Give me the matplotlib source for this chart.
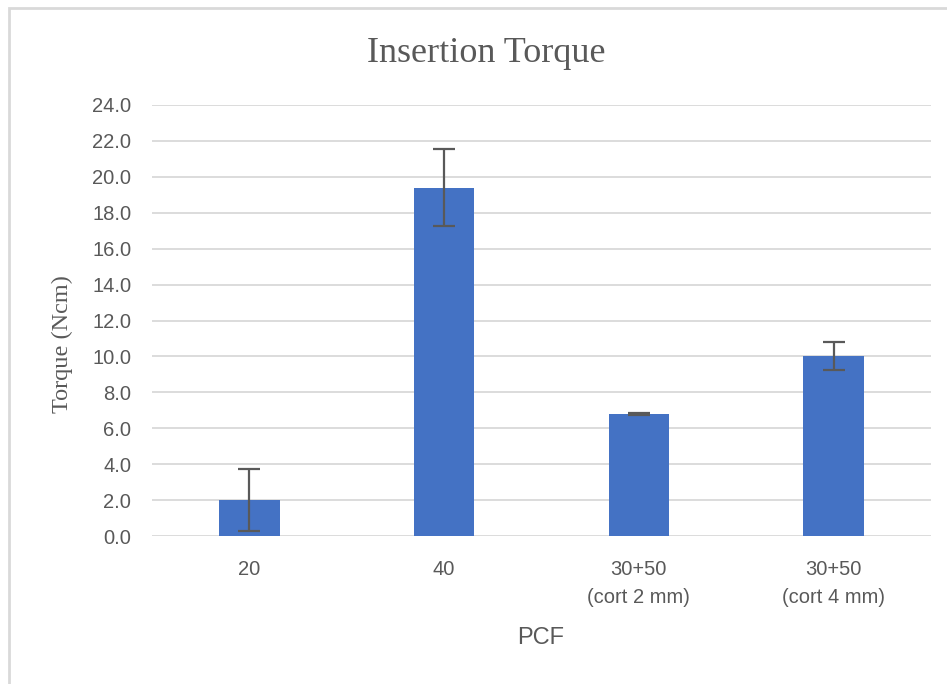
import matplotlib.pyplot as plt
from matplotlib.patches import Rectangle

# data
categories = ["20", "40", "30+50\n(cort 2 mm)", "30+50\n(cort 4 mm)"]
torque = [2.0, 19.4, 6.8, 10.0]
torque_err = [1.72, 2.15, 0.05, 0.78]
y_ticks = [0, 2, 4, 6, 8, 10, 12, 14, 16, 18, 20, 22, 24]

text_grey = "#595959"
bar_blue = "#4472C4"

fig = plt.figure(figsize=(9.47, 6.84), dpi=100)

# light frame round the chart, like the Excel chart area
fig.patches.append(Rectangle((9 / 947, -0.01), 1.0, (684 - 8) / 684 + 0.01,
                             transform=fig.transFigure, fill=False,
                             edgecolor="#d9d9d9", linewidth=2))

ax = fig.add_axes([152 / 947, 148 / 684, (931 - 152) / 947, (536 - 105) / 684])

x = list(range(len(categories)))
ax.bar(x, torque, width=0.31, color=bar_blue, zorder=3,
       yerr=torque_err, capsize=8,
       error_kw=dict(ecolor=text_grey, elinewidth=1.6, capthick=1.6, zorder=4))

ax.set_xlim(-0.5, len(categories) - 0.5)
ax.set_ylim(0, 24)
ax.set_yticks(y_ticks)
ax.set_yticklabels([f"{v:.1f}" for v in y_ticks])
ax.set_xticks(x)
ax.set_xticklabels(categories, linespacing=1.6)

ax.grid(True, axis="y", color="#d9d9d9", linewidth=1.3, zorder=0)
ax.set_axisbelow(True)
for s in ax.spines.values():
    s.set_visible(False)

ax.tick_params(axis="both", length=0, labelsize=14.5, labelcolor=text_grey,
               labelfontfamily="Liberation Sans")
ax.tick_params(axis="y", pad=15)
ax.tick_params(axis="x", pad=17)

fig.text(486 / 947, 1 - 53 / 684, "Insertion Torque", ha="center", va="center",
         fontsize=26, family="Liberation Serif", color=text_grey)
fig.text(62 / 947, 1 - 344 / 684, "Torque (Ncm)", ha="center", va="center",
         rotation=90, fontsize=17.5, family="Liberation Serif", color=text_grey)
fig.text(541 / 947, 1 - 638 / 684, "PCF", ha="center", va="center",
         fontsize=17, family="Liberation Sans", color=text_grey)

plt.savefig("out.png", dpi=100)
